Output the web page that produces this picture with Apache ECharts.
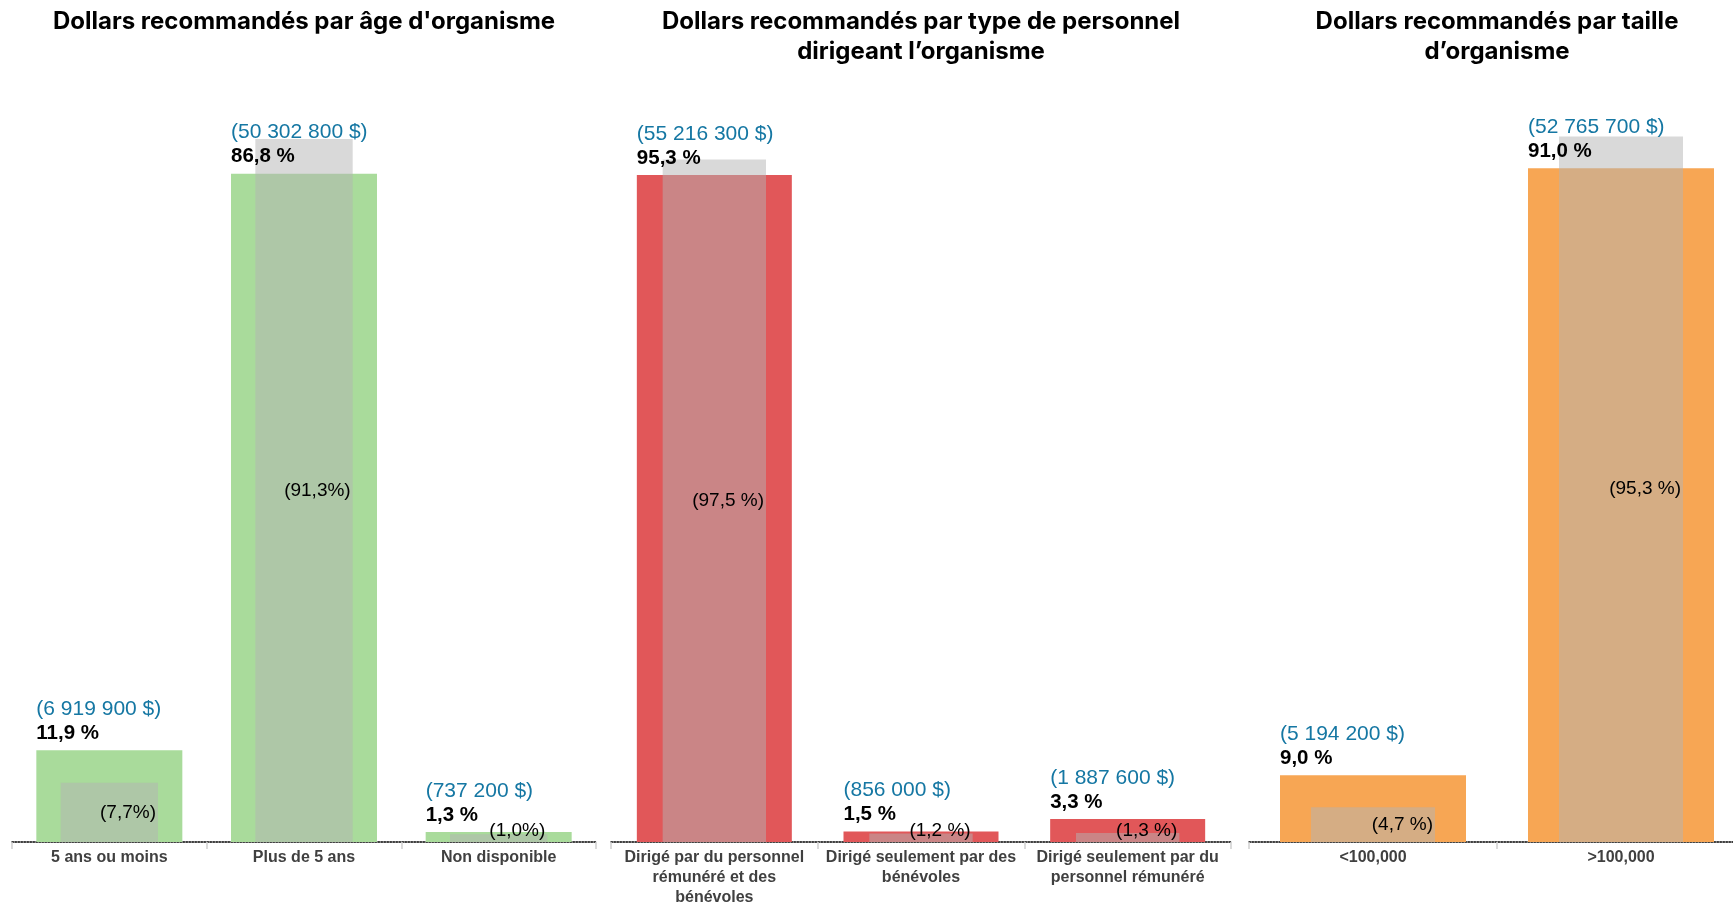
<!DOCTYPE html>
<html><head><meta charset="utf-8">
<script src="https://cdn.jsdelivr.net/npm/echarts@6/dist/echarts.min.js"></script>
<style>html,body{margin:0;padding:0;background:#fff}#c{width:1733px;height:903px}</style>
</head><body><div id="c"></div>
<script>
// ---- data ----
const titleAge = "Dollars recommandés par âge d'organisme";
const titleStaff = "Dollars recommandés par type de personnel\ndirigeant l’organisme";
const titleSize = "Dollars recommandés par taille\nd’organisme";

const catsAge = ["5 ans ou moins", "Plus de 5 ans", "Non disponible"];
const pctDollarsAge = [11.9, 86.8, 1.3];
const pctGrayAge = [7.7, 91.3, 1.0];
const dollarsAge = [6919900, 50302800, 737200];
const grayLabelsAge = ["(7,7%)", "(91,3%)", "(1,0%)"];

const catsStaff = ["Dirigé par du personnel\nrémunéré et des\nbénévoles", "Dirigé seulement par des\nbénévoles", "Dirigé seulement par du\npersonnel rémunéré"];
const pctDollarsStaff = [95.3, 1.5, 3.3];
const pctGrayStaff = [97.5, 1.2, 1.3];
const dollarsStaff = [55216300, 856000, 1887600];
const grayLabelsStaff = ["(97,5 %)", "(1,2 %)", "(1,3 %)"];

const catsSize = ["<100,000", ">100,000"];
const pctDollarsSize = [9.0, 91.0];
const pctGraySize = [4.7, 95.3];
const dollarsSize = [5194200, 52765700];
const grayLabelsSize = ["(4,7 %)", "(95,3 %)"];

// ---- layout / style ----
const panels = [
  {title: titleAge, cats: catsAge, pct: pctDollarsAge, gray: pctGrayAge, dollars: dollarsAge, grayLabels: grayLabelsAge, color: '#A9DB9B', left: 12, width: 584, max: 100},
  {title: titleStaff, cats: catsStaff, pct: pctDollarsStaff, gray: pctGrayStaff, dollars: dollarsStaff, grayLabels: grayLabelsStaff, color: '#E15759', left: 611, width: 620, max: 110},
  {title: titleSize, cats: catsSize, pct: pctDollarsSize, gray: pctGraySize, dollars: dollarsSize, grayLabels: grayLabelsSize, color: '#F7A654', left: 1249, width: 496, max: 104}
];
const TOP = 72, BASE = 842;
const FONT = "'Liberation Sans', Arial, sans-serif";
const fmt = n => String(n).replace(/\B(?=(\d{3})+(?!\d))/g, ' ');
const fmtPct = v => v.toFixed(1).replace('.', ',') + ' %';

const option = {
  animation: false,
  backgroundColor: '#fff',
  title: [], grid: [], xAxis: [], yAxis: [], series: []
};

panels.forEach((p, i) => {
  option.title.push({
    text: p.title, left: p.left + p.width / 2, top: 7, padding: 0, textAlign: 'center',
    textStyle: {fontFamily: 'Inter, sans-serif', fontWeight: 'bold', fontSize: 24, lineHeight: 30, color: '#000'}
  });
  option.grid.push({left: p.left, width: p.width, top: TOP, height: BASE - TOP, containLabel: false, outerBoundsMode: 'none'});
  option.xAxis.push({
    type: 'category', gridIndex: i, data: p.cats, boundaryGap: true,
    axisLine: {show: true, lineStyle: {color: '#000', type: 'dotted', width: 1.5}},
    axisTick: {show: true, interval: 0, length: 7, lineStyle: {color: '#d0d0d0', width: 1.5}},
    axisLabel: {interval: 0, color: '#404040', fontWeight: 'bold', fontSize: 16, fontFamily: FONT, lineHeight: 20, margin: 6},
    splitLine: {show: false}
  });
  option.xAxis.push({type: 'category', gridIndex: i, data: p.cats, show: false});
  option.xAxis.push({type: 'category', gridIndex: i, data: p.cats, show: false});
  option.yAxis.push({type: 'value', gridIndex: i, min: 0, max: p.max, show: false, splitLine: {show: false}});
  // coloured bars: share of recommended dollars
  option.series.push({
    type: 'bar', xAxisIndex: 3 * i, yAxisIndex: i, data: p.pct, barWidth: '75%',
    itemStyle: {color: p.color}, z: 2
  });
  // grey overlay bars (semi-transparent)
  option.series.push({
    type: 'bar', xAxisIndex: 3 * i + 1, yAxisIndex: i, barWidth: '50%', z: 3,
    data: p.gray.map(v => ({value: v, label: {offset: [0, v < 2 ? -7 : 0]}})),
    itemStyle: {color: 'rgba(179,179,179,0.5)'},
    label: {
      show: true, position: 'insideRight', distance: 2, color: '#000', fontSize: 19, fontFamily: FONT,
      formatter: prm => p.grayLabels[prm.dataIndex]
    }
  });
  // label carrier drawn on top: amount and percentage above coloured bars
  option.series.push({
    type: 'bar', xAxisIndex: 3 * i + 2, yAxisIndex: i, data: p.pct, barWidth: '75%',
    itemStyle: {color: 'rgba(0,0,0,0)'}, z: 4, silent: true,
    label: {
      show: true, position: [0, -5], align: 'left', verticalAlign: 'bottom',
      formatter: prm => '{a|(' + fmt(p.dollars[prm.dataIndex]) + ' $)}\n{b|' + fmtPct(p.pct[prm.dataIndex]) + '}',
      rich: {
        a: {color: '#1577A3', fontSize: 21, lineHeight: 24, fontFamily: FONT},
        b: {color: '#000', fontSize: 20.5, fontWeight: 'bold', lineHeight: 24, fontFamily: FONT}
      }
    }
  });
});

const chart = echarts.init(document.getElementById('c'), null, {renderer: 'canvas'});
chart.setOption(option);
</script>
</body></html>
